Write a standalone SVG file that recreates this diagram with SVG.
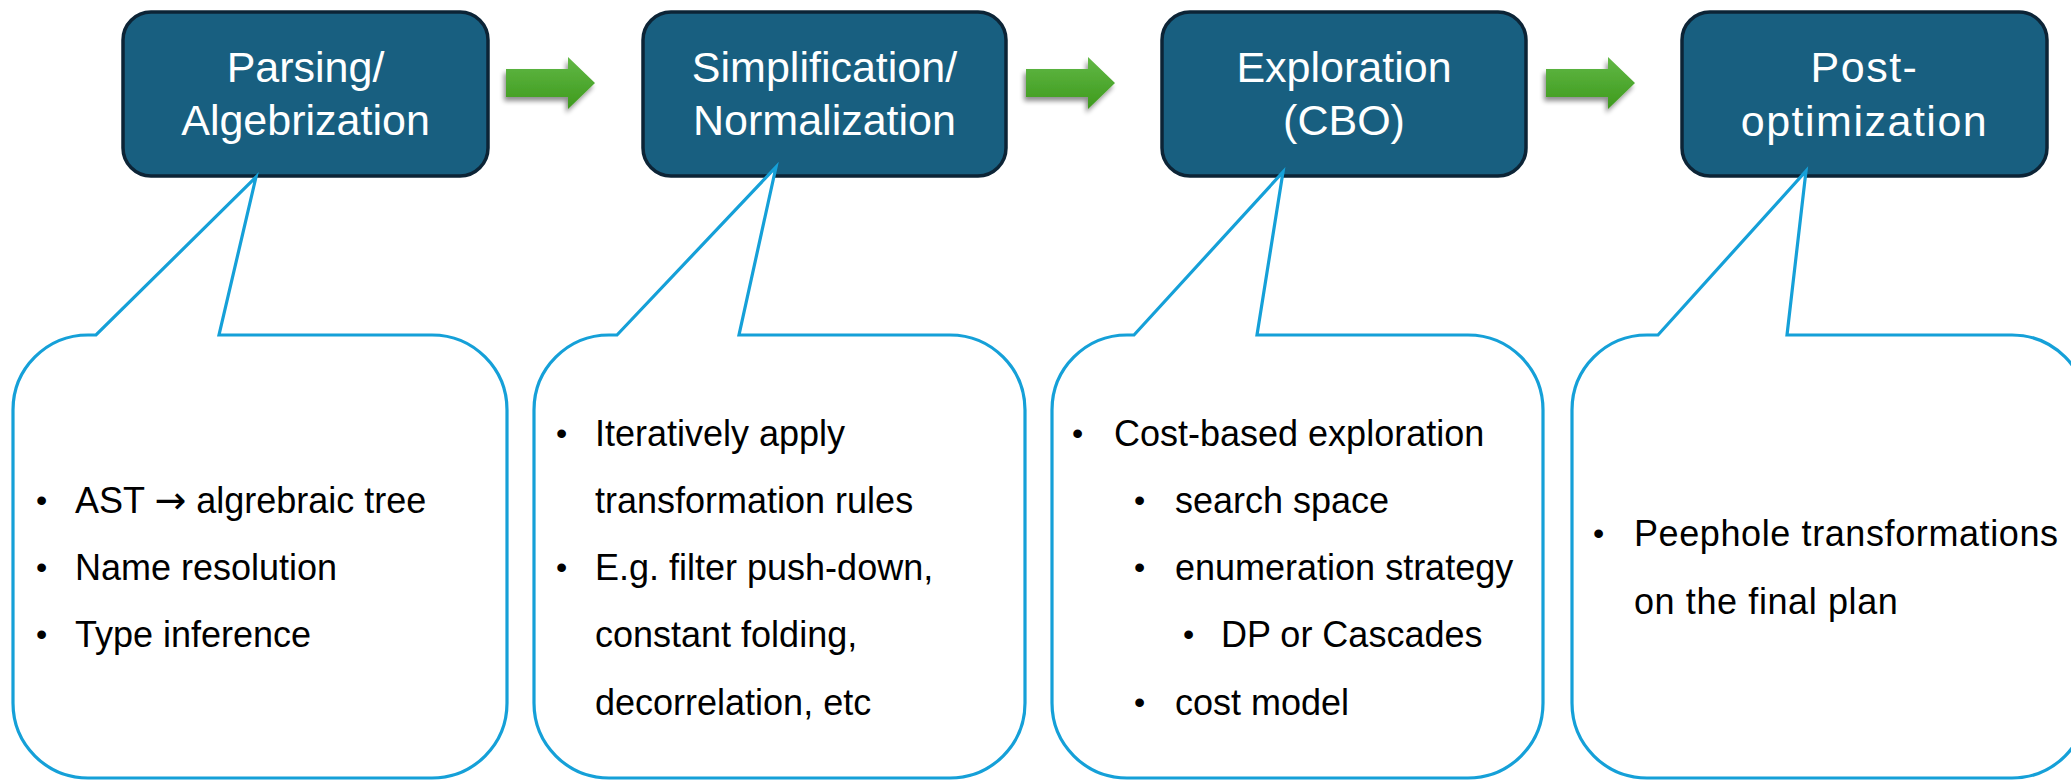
<svg xmlns="http://www.w3.org/2000/svg" width="2071" height="781" viewBox="0 0 2071 781">
  <defs>
    <linearGradient id="arrowFill" x1="0" y1="0" x2="0" y2="1">
      <stop offset="0" stop-color="#62b846"/>
      <stop offset="1" stop-color="#3d9a1c"/>
    </linearGradient>
    <filter id="arrowShadow" x="-20%" y="-30%" width="140%" height="170%">
      <feGaussianBlur in="SourceAlpha" stdDeviation="2.5"/>
      <feOffset dx="-2" dy="4" result="blur"/>
      <feComponentTransfer><feFuncA type="linear" slope="0.45"/></feComponentTransfer>
      <feMerge><feMergeNode/><feMergeNode in="SourceGraphic"/></feMerge>
    </filter>
    <path id="flowArrow" d="M0,69 H62 V57 L89,83 L62,109 V97 H0 Z"/>
  </defs>
  <style>
    .stage { fill: #185f80; stroke: #0c2436; stroke-width: 3.5; }
    .title { font-family: "Liberation Sans", Arial, sans-serif; font-size: 43px; fill: #ffffff; text-anchor: middle; }
    .bubble { fill: #ffffff; stroke: #15a0d8; stroke-width: 3.2; stroke-linejoin: miter; }
    .item { font-family: "Liberation Sans", Arial, sans-serif; font-size: 36px; fill: #000000; }
    .dot { font-family: "Liberation Sans", Arial, sans-serif; font-size: 32px; fill: #000000; }
    .sym { font-family: "DejaVu Sans", sans-serif; font-size: 38px; }
    .arrow { fill: url(#arrowFill); filter: url(#arrowShadow); }
  </style>

  <rect width="2071" height="781" fill="#ffffff"/>

  <!-- stage boxes -->
  <g id="stage-parsing">
    <rect class="stage" x="123" y="12" width="365" height="164" rx="28"/>
    <text class="title" x="305.5" y="82">Parsing/</text>
    <text class="title" x="305.5" y="135">Algebrization</text>
  </g>
  <g id="stage-simplification">
    <rect class="stage" x="643" y="12" width="363" height="164" rx="28"/>
    <text class="title" x="824.5" y="82">Simplification/</text>
    <text class="title" x="824.5" y="135">Normalization</text>
  </g>
  <g id="stage-exploration">
    <rect class="stage" x="1162" y="12" width="364" height="164" rx="28"/>
    <text class="title" x="1344" y="82">Exploration</text>
    <text class="title" x="1344" y="135">(CBO)</text>
  </g>
  <g id="stage-post">
    <rect class="stage" x="1682" y="12" width="365" height="164" rx="28"/>
    <text class="title" x="1864.5" y="82" letter-spacing="1.5">Post-</text>
    <text class="title" x="1864.5" y="136" letter-spacing="1.5">optimization</text>
  </g>

  <!-- flow arrows between stages -->
  <g id="connectors">
    <use href="#flowArrow" class="arrow" transform="translate(506,0)"/>
    <use href="#flowArrow" class="arrow" transform="translate(1026,0)"/>
    <use href="#flowArrow" class="arrow" transform="translate(1546,0)"/>
  </g>

  <!-- callouts -->
  <g id="callout-parsing">
    <path class="bubble" d="M88,335 L96,335 L256,177 L219,335 L432,335 A75,75 0 0 1 507,410 L507,703 A75,75 0 0 1 432,778 L88,778 A75,75 0 0 1 13,703 L13,410 A75,75 0 0 1 88,335 Z"/>
    <text class="dot" x="36" y="511">•</text>
    <text class="item" x="75" y="513">AST <tspan class="sym">→</tspan> algrebraic tree</text>
    <text class="dot" x="36" y="578">•</text>
    <text class="item" x="75" y="580">Name resolution</text>
    <text class="dot" x="36" y="645">•</text>
    <text class="item" x="75" y="647">Type inference</text>
  </g>

  <g id="callout-simplification">
    <path class="bubble" d="M609,335 L617,335 L776,167 L739,335 L950,335 A75,75 0 0 1 1025,410 L1025,703 A75,75 0 0 1 950,778 L609,778 A75,75 0 0 1 534,703 L534,410 A75,75 0 0 1 609,335 Z"/>
    <text class="dot" x="556" y="444">•</text>
    <text class="item" x="595" y="446">Iteratively apply</text>
    <text class="item" x="595" y="513">transformation rules</text>
    <text class="dot" x="556" y="578">•</text>
    <text class="item" x="595" y="580">E.g. filter push-down,</text>
    <text class="item" x="595" y="647">constant folding,</text>
    <text class="item" x="595" y="715">decorrelation, etc</text>
  </g>

  <g id="callout-exploration">
    <path class="bubble" d="M1127,335 L1134,335 L1283,172 L1257,335 L1468,335 A75,75 0 0 1 1543,410 L1543,703 A75,75 0 0 1 1468,778 L1127,778 A75,75 0 0 1 1052,703 L1052,410 A75,75 0 0 1 1127,335 Z"/>
    <text class="dot" x="1072" y="444">•</text>
    <text class="item" x="1114" y="446">Cost-based exploration</text>
    <text class="dot" x="1134" y="511">•</text>
    <text class="item" x="1175" y="513">search space</text>
    <text class="dot" x="1134" y="578">•</text>
    <text class="item" x="1175" y="580">enumeration strategy</text>
    <text class="dot" x="1183" y="645">•</text>
    <text class="item" x="1221" y="647">DP or Cascades</text>
    <text class="dot" x="1134" y="713">•</text>
    <text class="item" x="1175" y="715">cost model</text>
  </g>

  <g id="callout-post">
    <path class="bubble" d="M1647,335 L1658,335 L1806,171 L1787,335 L2012,335 A75,75 0 0 1 2087,410 L2087,703 A75,75 0 0 1 2012,778 L1647,778 A75,75 0 0 1 1572,703 L1572,410 A75,75 0 0 1 1647,335 Z"/>
    <text class="dot" x="1593" y="544">•</text>
    <text class="item" x="1634" y="546" letter-spacing="0.6">Peephole transformations</text>
    <text class="item" x="1634" y="614" letter-spacing="0.6">on the final plan</text>
  </g>
</svg>
